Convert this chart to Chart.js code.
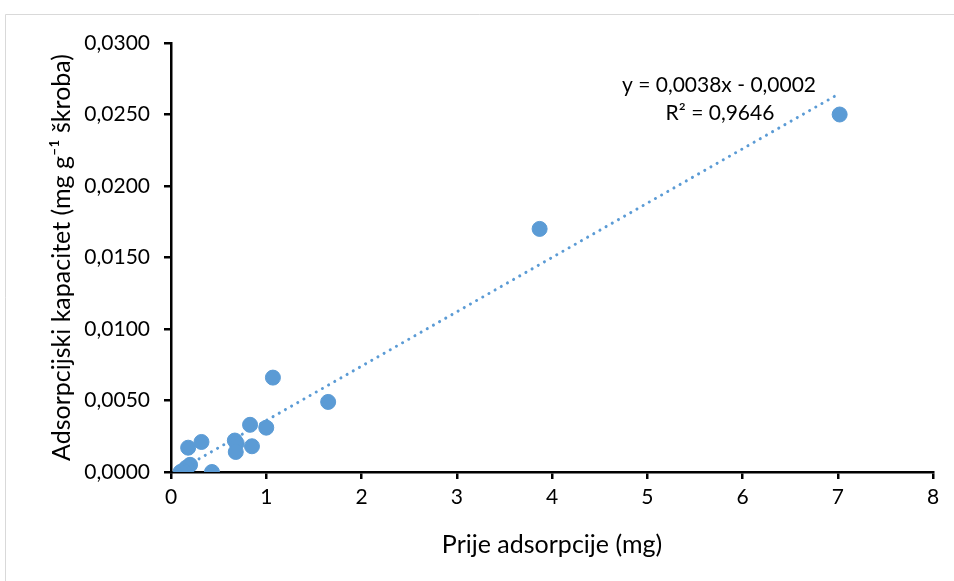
<!DOCTYPE html>
<html>
<head>
<meta charset="utf-8">
<script src="https://cdn.jsdelivr.net/npm/chart.js@4.4.0/dist/chart.umd.min.js"></script>
<style>
  html, body { margin: 0; padding: 0; background: #fff; }
  #wrap { width: 954px; height: 581px; position: relative; }
</style>
</head>
<body>
<div id="wrap"><canvas id="scatterPlot" width="954" height="581"></canvas></div>
<script>
// measured points (Prije adsorpcije, adsorpcijski kapacitet)
const xValues = [7.02, 3.87, 1.65, 1.07, 1.00, 0.83, 0.85, 0.67, 0.69, 0.68, 0.32, 0.18, 0.43, 0.20, 0.16, 0.13, 0.10];
const yValues = [0.0250, 0.0170, 0.0049, 0.0066, 0.0031, 0.0033, 0.0018, 0.0022, 0.0020, 0.0014, 0.0021, 0.0017, 0.0000, 0.0005, 0.0003, 0.0001, 0.0000];

// linear trendline as shown on the chart
const trendSlope = 0.0038;
const trendIntercept = -0.0002;
const trendX = [0.10, 7.02];
const trendLabels = ['y = 0,0038x - 0,0002', 'R\u00b2 = 0,9646'];

const xTicks = [0, 1, 2, 3, 4, 5, 6, 7, 8];
const yTicks = [0, 0.005, 0.01, 0.015, 0.02, 0.025, 0.03];

const blue = '#5b9bd5';
const fontFamily = 'Lato, "Open Sans", sans-serif';

const points = xValues.map((x, i) => ({ x: x, y: yValues[i] }));
const trendPoints = trendX.map(x => ({ x: x, y: trendSlope * x + trendIntercept }));

// light frame around the chart and the equation label
const framePlugin = {
    id: 'frame',
    beforeDraw(chart) {
        const ctx = chart.ctx;
        ctx.save();
        ctx.fillStyle = '#fff';
        ctx.fillRect(0, 0, chart.width, chart.height);
        ctx.strokeStyle = '#d9d9d9';
        ctx.lineWidth = 1;
        ctx.beginPath();
        ctx.moveTo(5.5, chart.height);
        ctx.lineTo(5.5, 14.5);
        ctx.lineTo(chart.width, 14.5);
        ctx.stroke();
        ctx.restore();
    },
    afterDraw(chart) {
        const ctx = chart.ctx;
        ctx.save();
        ctx.fillStyle = '#000';
        ctx.font = '21px ' + fontFamily;
        ctx.textAlign = 'center';
        ctx.textBaseline = 'middle';
        ctx.fillText(trendLabels[0], 719, 85);
        ctx.fillText(trendLabels[1], 720, 113);
        ctx.restore();
    }
};

const ctx = document.getElementById('scatterPlot').getContext('2d');
new Chart(ctx, {
    type: 'scatter',
    data: {
        datasets: [
            {
                label: 'Podaci',
                data: points,
                backgroundColor: blue,
                borderColor: blue,
                pointRadius: 7.5,
                pointHoverRadius: 7.5,
                order: 2
            },
            {
                label: 'Linearni trend',
                type: 'line',
                data: trendPoints,
                borderColor: blue,
                borderWidth: 3,
                borderDash: [0.1, 7],
                borderCapStyle: 'round',
                pointRadius: 0,
                fill: false,
                order: 1
            }
        ]
    },
    plugins: [framePlugin],
    options: {
        responsive: false,
        animation: false,
        layout: { padding: { top: 43, right: 21, left: 0, bottom: 0 } },
        plugins: {
            legend: { display: false },
            tooltip: { enabled: false }
        },
        scales: {
            x: {
                type: 'linear',
                min: 0,
                max: 8,
                afterFit: scale => { scale.height = 109; },
                afterBuildTicks: scale => { scale.ticks = xTicks.map(v => ({ value: v })); },
                border: { color: '#000', width: 2.5 },
                grid: { drawOnChartArea: false, color: '#000', lineWidth: 2.5, tickLength: 7 },
                ticks: { color: '#000', font: { size: 21, family: fontFamily }, padding: 6 },
                title: {
                    display: true,
                    text: 'Prije adsorpcije (mg)',
                    color: '#000',
                    font: { size: 25, family: fontFamily },
                    padding: { top: 0, bottom: 21 }
                }
            },
            y: {
                type: 'linear',
                min: 0,
                max: 0.03,
                afterFit: scale => { scale.width = 171; },
                afterBuildTicks: scale => { scale.ticks = yTicks.map(v => ({ value: v })); },
                border: { color: '#000', width: 2.5 },
                grid: { drawOnChartArea: false, color: '#000', lineWidth: 2.5, tickLength: 7 },
                ticks: {
                    color: '#000',
                    font: { size: 21, family: fontFamily },
                    padding: 14,
                    callback: v => v.toFixed(4).replace('.', ',')
                },
                title: {
                    display: true,
                    text: 'Adsorpcijski kapacitet (mg g\u207b\u00b9 \u0161kroba)',
                    color: '#000',
                    font: { size: 25, family: fontFamily },
                    padding: { top: 47, bottom: 0 }
                }
            }
        }
    }
});
</script>
</body>
</html>
